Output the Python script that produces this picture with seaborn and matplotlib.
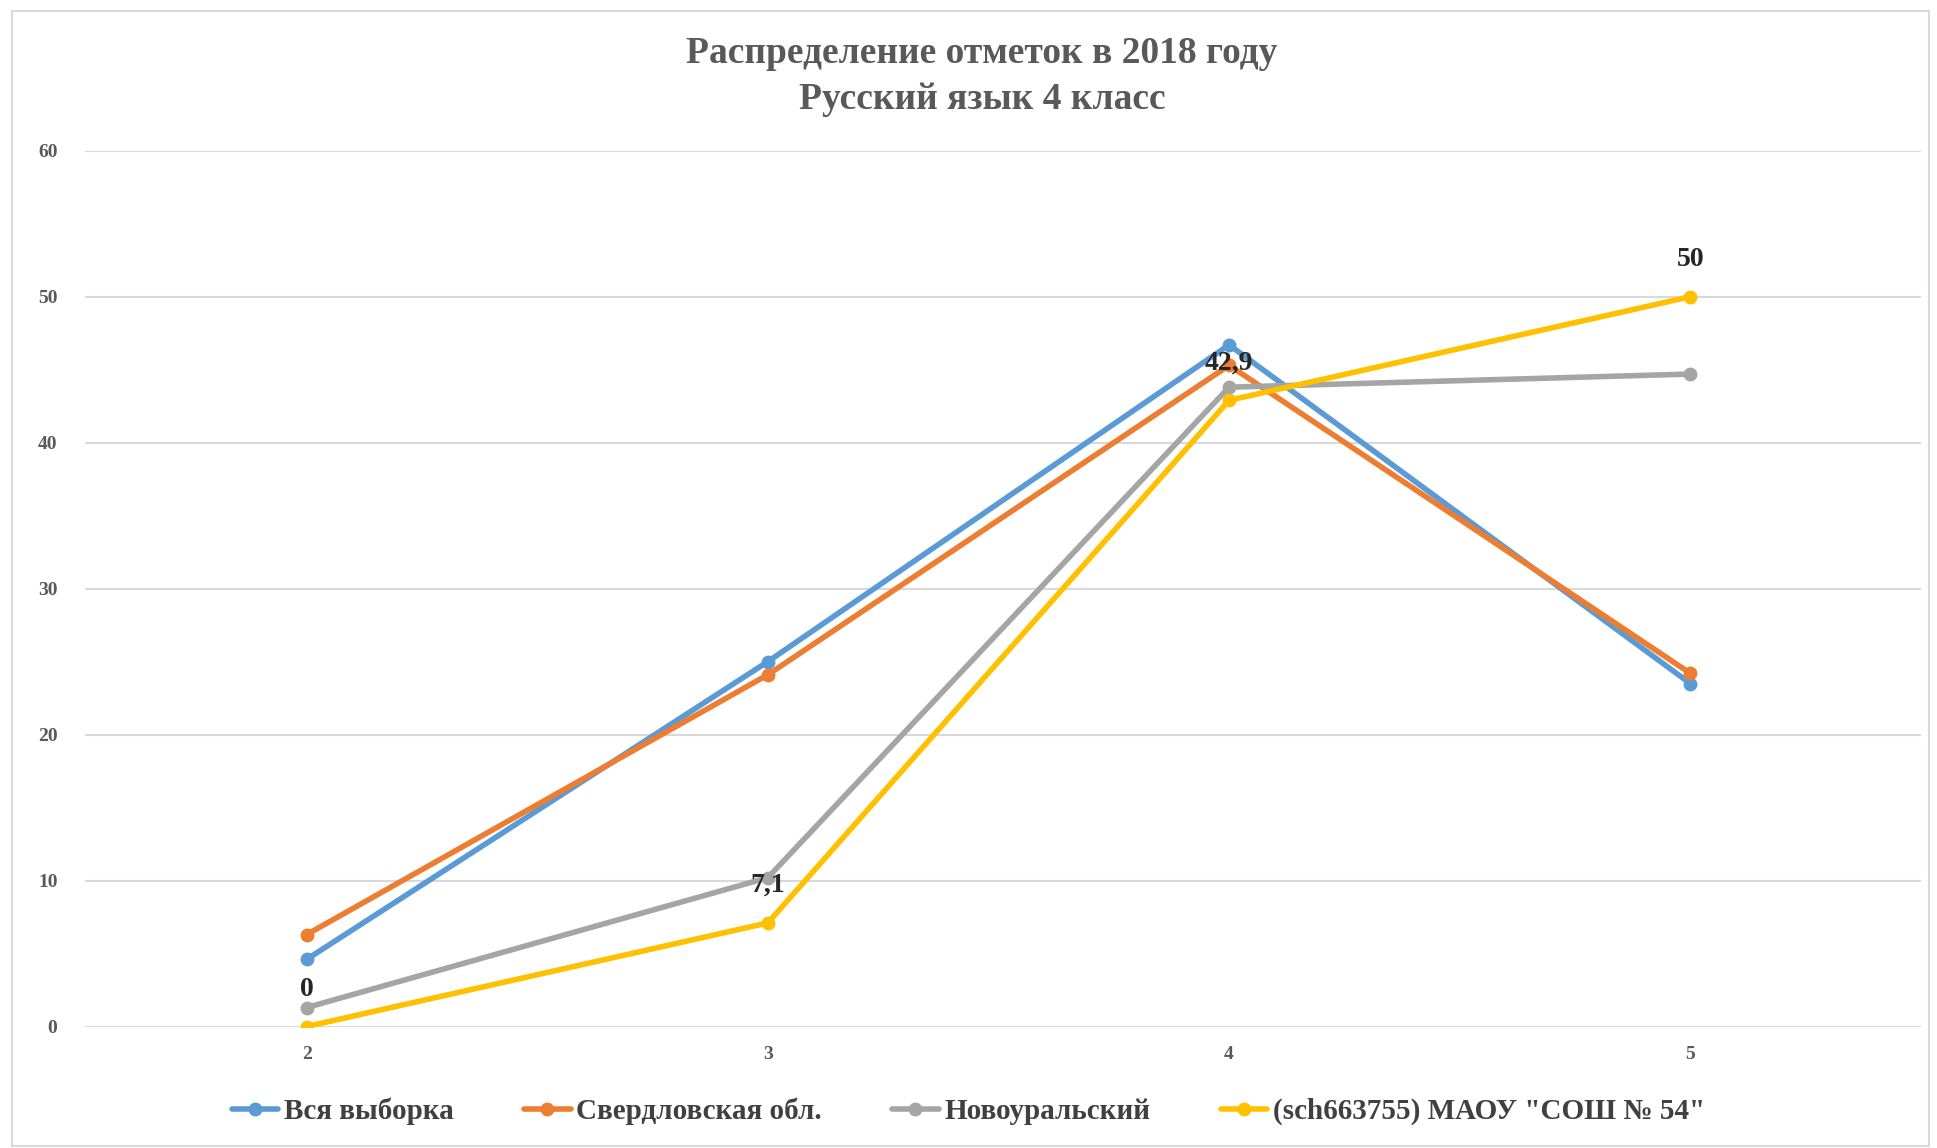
import matplotlib
matplotlib.use("Agg")
import matplotlib.pyplot as plt
import seaborn as sns
import pandas as pd
from matplotlib.patches import Rectangle

# grades and share of marks (%) per group
grades = [2, 3, 4, 5]
series_names = ['Вся выборка', 'Свердловская обл.', 'Новоуральский',
                '(sch663755) МАОУ "СОШ № 54"']
vsya = [4.6, 25.0, 46.7, 23.5]
sverdl = [6.3, 24.1, 45.3, 24.2]
novour = [1.3, 10.2, 43.8, 44.7]
school = [0, 7.1, 42.9, 50]
school_labels = ['0', '7,1', '42,9', '50']
colors = ['#5B9BD5', '#ED7D31', '#A5A5A5', '#FFC000']

rows = []
for name, vals in zip(series_names, [vsya, sverdl, novour, school]):
    for g, v in zip(grades, vals):
        rows.append({'grade': g, 'value': v, 'group': name})
df = pd.DataFrame(rows)

sns.set_theme(style='white')
plt.rcParams['font.family'] = ['Liberation Serif', 'DejaVu Serif']
plt.rcParams['font.weight'] = 'bold'

fig = plt.figure(figsize=(19.37, 11.48), dpi=100)
ax = fig.add_axes([0.0440, 0.1058, 0.9477, 0.7629])

sns.lineplot(data=df, x='grade', y='value', hue='group', hue_order=series_names,
             palette=colors, marker='o', markersize=10, markeredgewidth=0,
             linewidth=4, ax=ax, legend=True)

for g, v, lab in zip(grades, school, school_labels):
    ax.annotate(lab, (g, v), xytext=(0, 27), textcoords='offset points',
                ha='center', va='center', fontsize=20, fontweight='bold',
                color='#262626')

ax.set_xlim(1.52, 5.50)
ax.set_ylim(0, 60)
ax.set_yticks(range(0, 61, 10))
ax.set_xticks(grades)
ax.set_xlabel('')
ax.set_ylabel('')
ax.yaxis.grid(True, color='#D9D9D9', linewidth=1.5)
ax.xaxis.grid(False)
ax.set_axisbelow(True)
for s in ax.spines.values():
    s.set_visible(False)
ax.tick_params(axis='both', length=0, labelsize=14, labelcolor='#595959')
ax.tick_params(axis='y', pad=20)
ax.tick_params(axis='x', pad=14)
for t in ax.get_xticklabels() + ax.get_yticklabels():
    t.set_fontweight('bold')

handles, labels = ax.get_legend_handles_labels()
ax.legend(handles, labels, loc='center', bbox_to_anchor=(0.5, 0.032),
          bbox_transform=fig.transFigure, ncol=4, frameon=False,
          prop={'size': 21, 'weight': 'bold'}, labelcolor='#404040',
          handlelength=1.6, handletextpad=0.2, columnspacing=2.4)

fig.text(0.507, 0.953, 'Распределение отметок в 2018 году', ha='center',
         va='center', fontsize=27, fontweight='bold', color='#595959')
fig.text(0.507, 0.913, 'Русский язык 4 класс', ha='center',
         va='center', fontsize=27, fontweight='bold', color='#595959')

fig.patches.append(Rectangle((0.006, 0.002), 0.99, 0.988, transform=fig.transFigure,
                             fill=False, edgecolor='#D9D9D9', linewidth=1.5))

fig.savefig('out.png', dpi=100)
